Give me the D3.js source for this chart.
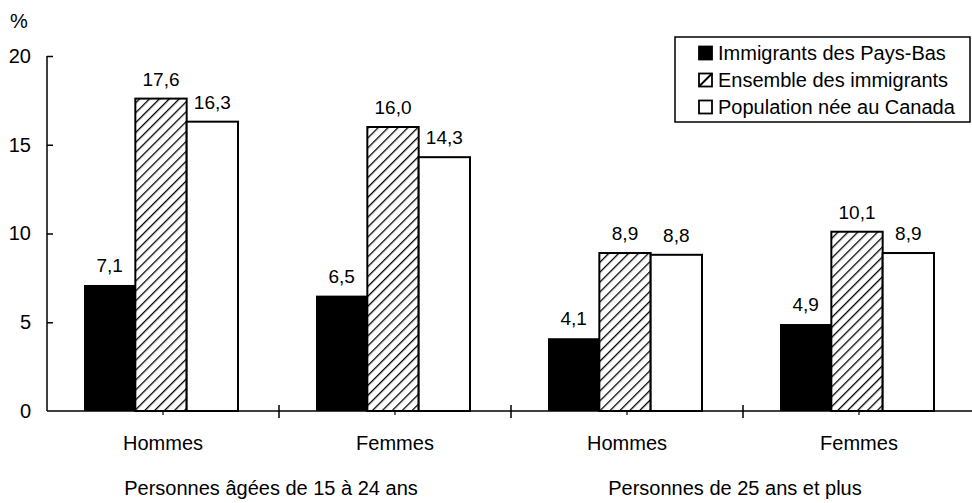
<!DOCTYPE html>
<html>
<head>
<meta charset="utf-8">
<script src="https://cdn.jsdelivr.net/npm/d3@7"></script>
<style>
  body { margin: 0; background: #fff; }
  text { font-family: "Liberation Sans", Arial, Helvetica, sans-serif; fill: #000; }
</style>
</head>
<body>
<svg id="chart" width="972" height="503"></svg>
<script>
const categories = ["Hommes", "Femmes", "Hommes", "Femmes"];
const groupLabels = ["Personnes âgées de 15 à 24 ans", "Personnes de 25 ans et plus"];
const seriesNames = ["Immigrants des Pays-Bas", "Ensemble des immigrants", "Population née au Canada"];
const paysBas = [7.1, 6.5, 4.1, 4.9];
const ensemble = [17.6, 16.0, 8.9, 10.1];
const canada = [16.3, 14.3, 8.8, 8.9];
const yTicks = [0, 5, 10, 15, 20];

const series = [paysBas, ensemble, canada];
const fmt = v => d3.format(".1f")(v).replace(".", ",");
const FONT = "Liberation Sans, Arial, sans-serif";

const svg = d3.select("#chart");
const defs = svg.append("defs");
const pat = defs.append("pattern")
  .attr("id", "hatch").attr("patternUnits", "userSpaceOnUse")
  .attr("width", 7).attr("height", 7)
  .attr("patternTransform", "rotate(45)");
pat.append("rect").attr("width", 7).attr("height", 7).attr("fill", "#fff");
pat.append("line").attr("x1", 0).attr("y1", 0).attr("x2", 0).attr("y2", 7)
  .attr("stroke", "#000").attr("stroke-width", 2.6);

const x0 = 47, x1 = 975;
const x = d3.scaleBand().domain(d3.range(categories.length)).range([x0, x1]).padding(0);
const y = d3.scaleLinear().domain([0, 20]).range([411, 56]);
const xs = d3.scaleBand().domain([0, 1, 2]).range([0, 154]).padding(0);

const fills = ["#000", "url(#hatch)", "#fff"];

// bars
series.forEach((vals, si) => {
  svg.append("g").selectAll("rect").data(vals).join("rect")
    .attr("x", (d, i) => x(i) + x.bandwidth() / 2 - 79 + xs(si))
    .attr("y", d => y(d))
    .attr("width", xs.bandwidth())
    .attr("height", d => y(0) - y(d))
    .attr("fill", fills[si])
    .attr("stroke", "#000")
    .attr("stroke-width", si === 0 ? 0 : 2);
  svg.append("g").selectAll("text").data(vals).join("text")
    .attr("x", (d, i) => x(i) + x.bandwidth() / 2 - 79 + xs(si) + xs.bandwidth() / 2)
    .attr("y", d => y(d) - 13)
    .attr("text-anchor", "middle")
    .attr("font-size", 19)
    .text(d => fmt(d));
});

// y axis
const yAxis = d3.axisLeft(y).tickValues(yTicks).tickSize(-6).tickPadding(16).tickFormat(d3.format("d"));
const gy = svg.append("g").attr("transform", `translate(${x0},0)`).call(yAxis);
gy.select(".domain").attr("stroke", "#000").attr("stroke-width", 1.5).attr("d", `M0,${y(20)}V${y(0)}`);
gy.selectAll(".tick line").attr("stroke", "#000").attr("stroke-width", 1.5);
gy.selectAll(".tick text").attr("font-size", 20).attr("font-family", FONT).attr("fill", "#000");
gy.selectAll(".tick").filter(d => d === 0).select("line").remove();

svg.append("text").attr("x", 10).attr("y", 28).attr("font-size", 20).text("%");

// x axis
svg.append("line").attr("x1", x0).attr("x2", 972).attr("y1", y(0)).attr("y2", y(0))
  .attr("stroke", "#000").attr("stroke-width", 1.5);
const xAxis = d3.axisBottom(x).tickSize(4).tickPadding(24).tickFormat(i => categories[i]);
const gx = svg.append("g").attr("transform", `translate(0,${y(0)})`).call(xAxis);
gx.select(".domain").remove();
gx.selectAll(".tick line").attr("stroke", "#000").attr("stroke-width", 1.2);
gx.selectAll(".tick text").attr("font-size", 20).attr("dy", null).attr("y", 39)
  .attr("font-family", FONT).attr("fill", "#000");

// separators
svg.append("g").selectAll("line").data([1, 2, 3]).join("line")
  .attr("x1", i => x(i)).attr("x2", i => x(i))
  .attr("y1", y(0) - 6).attr("y2", y(0) + 7)
  .attr("stroke", "#000").attr("stroke-width", 1.5);

// group labels
svg.append("g").selectAll("text").data(groupLabels).join("text")
  .attr("x", (d, i) => x(i * 2 + 1) - 8)
  .attr("y", 495)
  .attr("text-anchor", "middle")
  .attr("font-size", 20)
  .text(d => d);

// legend
const lg = svg.append("g");
lg.append("rect").attr("x", 675).attr("y", 37).attr("width", 295).attr("height", 85)
  .attr("fill", "#fff").attr("stroke", "#000").attr("stroke-width", 1.5);
seriesNames.forEach((name, i) => {
  const cy = 53 + i * 27;
  const sx = 699, s = 13;
  lg.append("rect").attr("x", sx).attr("y", cy - s / 2).attr("width", s).attr("height", s)
    .attr("fill", i === 0 ? "#000" : "#fff").attr("stroke", "#000").attr("stroke-width", 1.8);
  if (i === 1) {
    lg.append("line").attr("x1", sx).attr("y1", cy + s / 2).attr("x2", sx + s).attr("y2", cy - s / 2)
      .attr("stroke", "#000").attr("stroke-width", 2);
  }
  lg.append("text").attr("x", 718).attr("y", cy + 7).attr("font-size", 20).text(name);
});
</script>
</body>
</html>
